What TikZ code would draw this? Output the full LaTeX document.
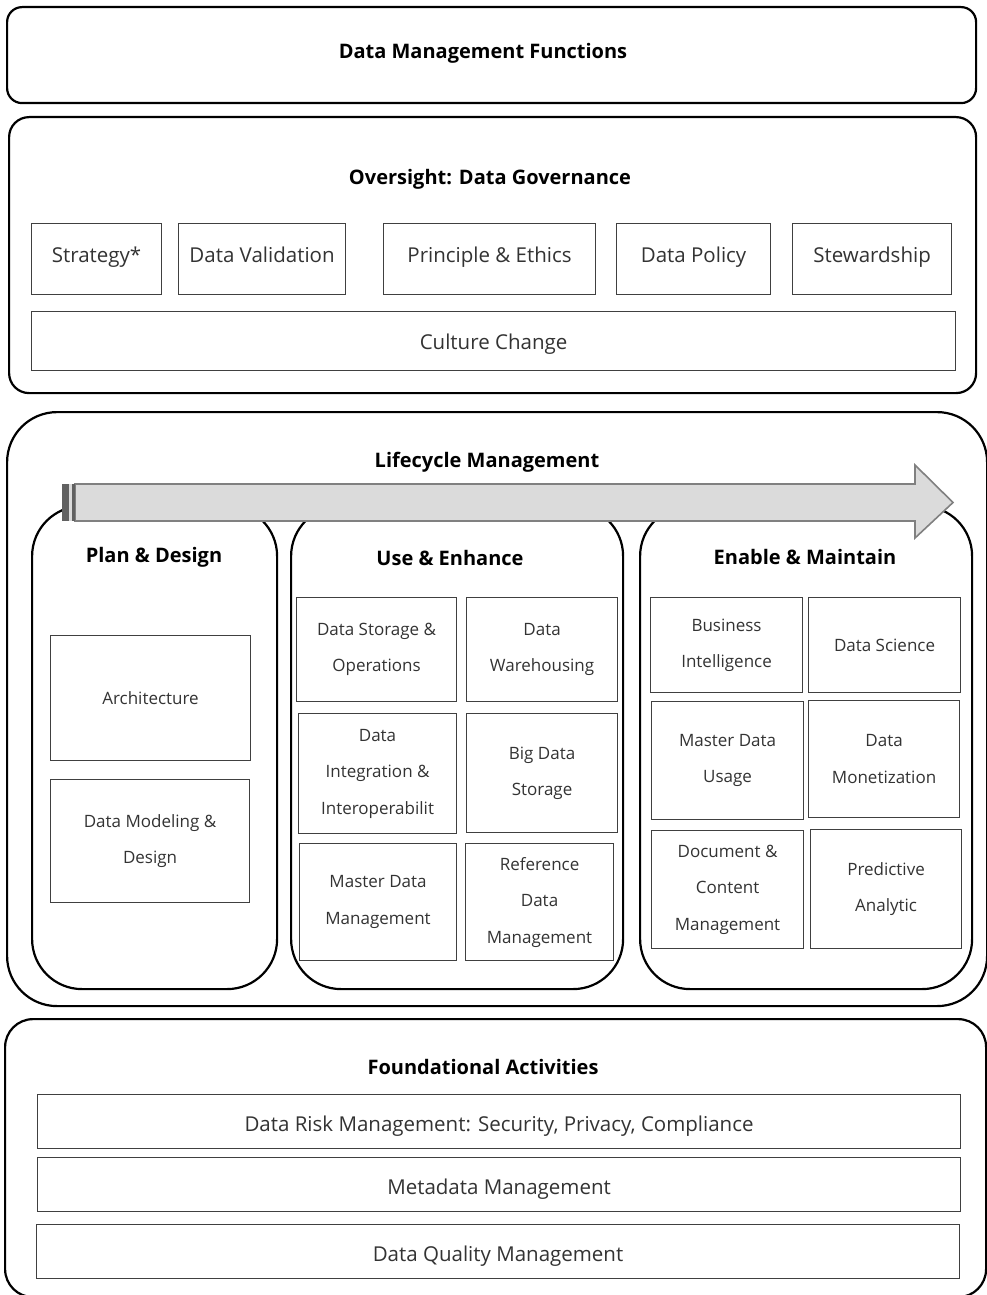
\documentclass[tikz,border=0pt]{standalone}
\usepackage{fontspec}
\setmainfont{Open Sans}
\begin{document}
\begin{tikzpicture}[x=1pt,y=-1pt,
  panel/.style={draw=black, line width=2.2pt, rounded corners=#1, fill=white,
    anchor=north west, inner sep=0pt},
  heading/.style={font=\bfseries\fontsize{20}{24}\selectfont, text=black,
    text height=14.5pt, text depth=4.5pt, inner sep=0pt, yshift=-2.8pt},
  cell/.style={draw=black!75, line width=1.1pt, fill=white, inner sep=0pt,
    anchor=north west, align=center, text=black!80,
    font=\fontsize{17}{36.5}\selectfont},
  wide/.style={cell, font=\fontsize{20.5}{24}\selectfont,
    text height=15pt, text depth=5pt},
  govrow/.style={wide, minimum height=71, text height=13pt, text depth=7pt},
  fbar/.style={wide, minimum width=923, minimum height=54, text height=20pt, text depth=0pt},
  arrowbody/.style={fill=black!14, draw=black!50, line width=1.6pt, line join=miter},
  stripe/.style={fill=black!62, draw=none}
]
\useasboundingbox (0,0) rectangle (987,1295);

% ---------- Data Management Functions ----------
\node[panel=15, minimum width=969, minimum height=96] (dmf) at (6,6) {};
\node[heading] (dmfT) at (483,51) {Data Management Functions};

% ---------- Oversight: Data Governance ----------
\node[panel=20, minimum width=967, minimum height=276] (gov) at (8,116) {};
\node[heading] (govT) at (490,177) {Oversight: Data Governance};
\node[govrow, minimum width=130] (strat)  at (31,223)  {Strategy*};
\node[govrow, minimum width=167] (valid)  at (178,223) {Data Validation};
\node[govrow, minimum width=212] (ethic)  at (383,223) {Principle \& Ethics};
\node[govrow, minimum width=154] (policy) at (616,223) {Data Policy};
\node[govrow, minimum width=159] (stew)   at (792,223) {Stewardship};
\node[wide, minimum width=924, minimum height=59, text height=18pt, text depth=2pt] (cult) at (31,311) {Culture Change};

% ---------- Lifecycle Management ----------
\node[panel=50, minimum width=980, minimum height=594] (life) at (6,411) {};
\node[heading] (lifeT) at (487,460) {Lifecycle Management};

\node[panel=50, minimum width=245, minimum height=483] (plan)   at (31,505)  {};
\node[panel=50, minimum width=332, minimum height=483] (use)    at (290,505) {};
\node[panel=50, minimum width=332, minimum height=483] (enable) at (639,505) {};

% lifecycle arrow over the panel tops
\draw[arrowbody] (75,484) -- (915,484) -- (915,465) -- (953,502.5)
  -- (915,538) -- (915,521) -- (75,521) -- cycle;
\fill[stripe] (62,484) rectangle (69,521);
\fill[black!14] (69,484) rectangle (71.5,521);
\fill[stripe] (71.5,484) rectangle (75,521);

\node[heading] (planT)   at (154,555) {Plan \& Design};
\node[heading] (useT)    at (450,558) {Use \& Enhance};
\node[heading] (enableT) at (805,557) {Enable \& Maintain};

% Plan & Design
\node[cell, minimum width=200, minimum height=125] (arch)  at (50,635) {Architecture};
\node[cell, minimum width=199, minimum height=123] (model) at (50,779) {Data Modeling \&\\Design};

% Use & Enhance
\node[cell, minimum width=160, minimum height=104] (store) at (296,597) {Data Storage \&\\Operations};
\node[cell, minimum width=151, minimum height=104] (ware)  at (466,597) {Data\\Warehousing};
\node[cell, minimum width=158, minimum height=120] (integ) at (298,713) {Data\\Integration \&\\Interoperabilit};
\node[cell, minimum width=151, minimum height=119] (bigd)  at (466,713) {Big Data\\Storage};
\node[cell, minimum width=157, minimum height=117] (mdm)   at (299,843) {Master Data\\Management};
\node[cell, minimum width=148, minimum height=117] (ref)   at (465,843) {Reference\\Data\\Management};

% Enable & Maintain
\node[cell, minimum width=152, minimum height=95]  (bi)    at (650,597) {Business\\Intelligence};
\node[cell, minimum width=152, minimum height=95]  (sci)   at (808,597) {Data Science};
\node[cell, minimum width=152, minimum height=118] (mdu)   at (651,701) {Master Data\\Usage};
\node[cell, minimum width=151, minimum height=117] (money) at (808,700) {Data\\Monetization};
\node[cell, minimum width=152, minimum height=118] (doc)   at (651,830) {Document \&\\Content\\Management};
\node[cell, minimum width=151, minimum height=119] (pred)  at (810,829) {Predictive\\Analytic};

% ---------- Foundational Activities ----------
\node[panel=28, minimum width=981, minimum height=278] (found) at (4,1018) {};
\node[heading] (foundT) at (483,1067) {Foundational Activities};
\node[fbar] (risk) at (37,1094) {Data Risk Management: Security, Privacy, Compliance};
\node[fbar] (meta) at (37,1157) {Metadata Management};
\node[fbar] (qual) at (36,1224) {Data Quality Management};
\end{tikzpicture}
\end{document}
